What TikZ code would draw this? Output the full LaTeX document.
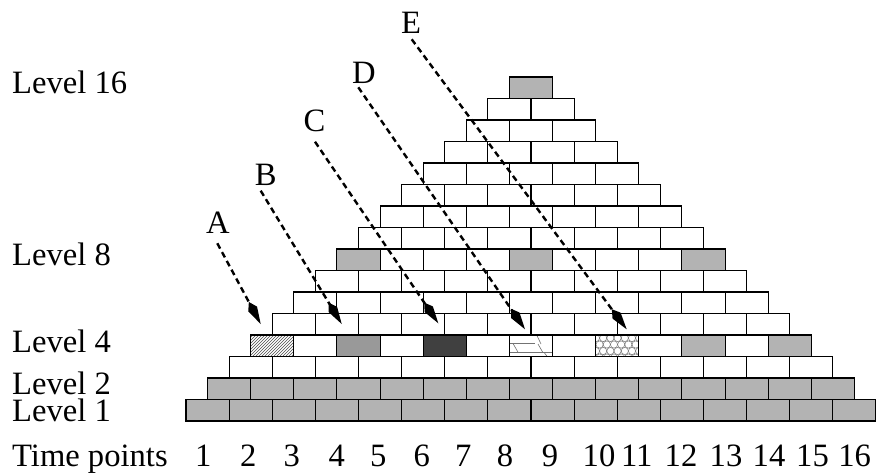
\documentclass[tikz,border=0pt]{standalone}
\usepackage{fontspec}
\setmainfont{Liberation Serif}
\usetikzlibrary{arrows.meta,patterns}
\definecolor{bgray}{HTML}{B3B3B3}
\definecolor{mgray}{HTML}{999999}
\definecolor{dgray}{HTML}{404040}
\newcommand\mybrick[3]{\path[brickbox,#3] ({186+(#1-1)*21.5625+(#2-1)*43.125},{421-(#1-1)*21.5}) rectangle ++(43.125,-21.5);}
\begin{document}
\begin{tikzpicture}[x=1pt,y=-1pt,
  brickbox/.style={draw=black,line width=1.1pt,fill=white},
  grayb/.style={fill=bgray},
  lbl/.style={font=\fontsize{32.6pt}{36pt}\selectfont,inner sep=0pt,anchor=base},
  lvl/.style={lbl,anchor=base west},
  arr/.style={line width=2.4pt,dash pattern=on 6pt off 4pt,-{Kite[length=25pt,width=10pt,inset=8pt]}},
  patline/.style={draw=black!55,line width=0.6pt}]
\useasboundingbox (0,0) rectangle (876,474);
% bricks
\foreach \k in {1,...,16}{%
  \pgfmathtruncatemacro\nb{17-\k}%
  \foreach \i in {1,...,\nb}{%
    \ifnum\k<3 \mybrick{\k}{\i}{grayb}\else \mybrick{\k}{\i}{}\fi
  }%
}
% level 8 and 16 grey bricks
\mybrick{8}{1}{grayb}
\mybrick{8}{5}{grayb}
\mybrick{8}{9}{grayb}
\mybrick{16}{1}{grayb}
% level 4 special bricks
\mybrick{4}{1}{pattern=north east lines,pattern color=black!70}
\mybrick{4}{3}{fill=mgray}
\mybrick{4}{5}{fill=dgray}
\mybrick{4}{11}{grayb}
\mybrick{4}{13}{grayb}
% brick 7: bricks pattern
\begin{scope}
  \clip (509.44,335) rectangle (552.56,356.5);
  \draw[patline] (509.44,343.5) -- (535,343.5);
  \draw[patline] (509.44,352.7) -- (552.56,352.7);
  \draw[patline] (513.3,344) -- (518.3,352.7);
  \draw[patline] (536.7,335) -- (541,344);
  \draw[patline] (544.3,352.7) -- (548.3,358);
  \draw[patline] (538,344) -- (543,352.7);
\end{scope}
\draw[line width=1.1pt] (509.44,335) rectangle (552.56,356.5);
% brick 9: scales pattern
\begin{scope}
  \clip (595.69,335) rectangle (638.81,356.5);
  \foreach \r in {0,...,3}{%
    \foreach \c in {0,...,6}{%
      \draw[patline,line width=0.5pt] ({596+\c*7.2+mod(\r,2)*3.6},{338+\r*6.5}) circle[radius=3.6];
    }%
  }
\end{scope}
\draw[line width=1.1pt] (595.69,335) rectangle (638.81,356.5);
% level labels
\node[lvl] (l16) at (12,93.3) {Level 16};
\node[lvl] (l8) at (12,265.7) {Level 8};
\node[lvl] (l4) at (12,352.3) {Level 4};
\node[lvl] (l2) at (12,394) {Level 2};
\node[lvl] (l1) at (12,421.7) {Level 1};
\node[lvl] (tp) at (12,466.7) {Time points};
\foreach \n/\x in {1/203.3,2/248.3,3/291.7,4/336.7,5/378.3,6/421.7,7/463.3,8/505,9/550,10/599,11/636.7,12/681,13/726,14/769,15/812.5,16/854.7}{%
  \node[lbl] (t\n) at (\x,466.7) {\n};
}
% arrows
\node[lbl] (A) at (218,233.5) {A};
\node[lbl] (B) at (265.8,185.5) {B};
\node[lbl] (C) at (314.5,131.5) {C};
\node[lbl] (D) at (364,83.3) {D};
\node[lbl] (E) at (411,33.3) {E};
\coordinate (As) at (217.3,243.3); \coordinate (At) at (260.7,324);
\coordinate (Bs) at (260.7,190.7); \coordinate (Bt) at (341.7,324);
\coordinate (Cs) at (315,141.7);   \coordinate (Ct) at (438.3,323.3);
\coordinate (Ds) at (358.3,87.3);  \coordinate (Dt) at (525,329.3);
\coordinate (Es) at (411.7,39.3);  \coordinate (Et) at (626.7,329.3);
\draw[arr] (As) -- (At);
\draw[arr] (Bs) -- (Bt);
\draw[arr] (Cs) -- (Ct);
\draw[arr] (Ds) -- (Dt);
\draw[arr] (Es) -- (Et);
\end{tikzpicture}
\end{document}
